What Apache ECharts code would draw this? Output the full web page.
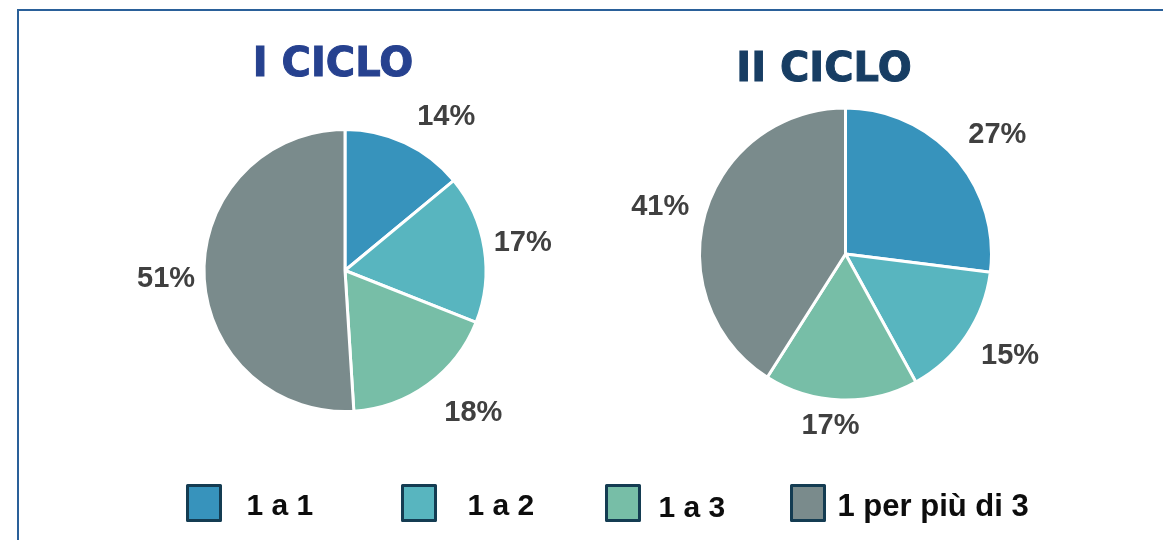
<!DOCTYPE html>
<html>
<head>
<meta charset="utf-8">
<script src="https://cdn.jsdelivr.net/npm/echarts@6/dist/echarts.min.js"></script>
<style>
  html, body { margin: 0; padding: 0; background: #fff; }
  #chart { width: 1163px; height: 540px; }
</style>
</head>
<body>
<div id="chart"></div>
<script>
// categorie e percentuali
const categories = ["1 a 1", "1 a 2", "1 a 3", "1 per più di 3"];
const primoCiclo = [14, 17, 18, 51];
const secondoCiclo = [27, 15, 17, 41];
const titoli = ["I CICLO", "II CICLO"];

const COLORS = ["#3793bc", "#58b5bf", "#77bea7", "#7a8b8c"];
const LABEL_COLOR = "#404040";

// piccoli spostamenti delle etichette (px) per avvicinarsi alla posizione di Excel
const nudgePrimo = [[22, 15], [-6, 2], [19, -8], [7, 3]];
const nudgeSecondo = [[7, 9], [5, -6], [-9, -21], [0, 7]];

const chart = echarts.init(document.getElementById("chart"));

function toData(values) {
  return values.map((v, i) => ({ name: categories[i], value: v }));
}

// torta vera
function pieSeries(values, center, r) {
  return {
    type: "pie",
    center: center,
    radius: r,
    startAngle: 90,
    clockwise: true,
    silent: true,
    label: { show: false },
    labelLine: { show: false },
    itemStyle: { borderColor: "#fff", borderWidth: 3 },
    data: toData(values),
  };
}

// anello trasparente usato solo per mettere le etichette fuori dalla torta
function labelRing(values, center, r, gap, nudge) {
  return {
    type: "pie",
    center: center,
    radius: [r, r + gap * 2],
    startAngle: 90,
    clockwise: true,
    silent: true,
    itemStyle: { color: "transparent" },
    label: {
      show: true,
      position: "inside",
      formatter: "{c}%",
      color: LABEL_COLOR,
      fontFamily: "Liberation Sans",
      fontWeight: "bold",
      fontSize: 29,
    },
    labelLine: { show: false },
    labelLayout: (p) => ({ dx: nudge[p.dataIndex][0], dy: nudge[p.dataIndex][1] }),
    data: toData(values),
  };
}

const legendLeft = [186, 401, 605, 790];
const legendPadLeft = [21, 27, 14, 8];
const legendPadTop = [8, 8, 12, 8];
const legendFont = [30, 30, 30, 31];

const titleStyle = (color) => ({
  fontFamily: "DejaVu Sans",
  fontWeight: "bold",
  fontSize: 40,
  color: color,
  textBorderColor: color,
  textBorderWidth: 1,
});

const option = {
  color: COLORS,
  animation: false,
  title: [
    { text: titoli[0], left: 333, top: 46, textAlign: "center", padding: 0, textStyle: titleStyle("#26418f") },
    { text: titoli[1], left: 824, top: 51, textAlign: "center", padding: 0, textStyle: titleStyle("#173d63") },
  ],
  legend: categories.map((name, i) => ({
    data: [name],
    left: legendLeft[i],
    top: 484,
    padding: 0,
    icon: "rect",
    itemWidth: 33,
    itemHeight: 35,
    selectedMode: false,
    itemStyle: { borderColor: "#143c52", borderWidth: 3 },
    formatter: "{t|{name}}",
    textStyle: {
      rich: {
        t: {
          fontFamily: "Liberation Sans",
          fontWeight: "bold",
          fontSize: legendFont[i],
          color: "#0d0d0d",
          padding: [legendPadTop[i], 0, 0, legendPadLeft[i]],
        },
      },
    },
  })),
  series: [
    pieSeries(primoCiclo, [345, 270.5], 141),
    pieSeries(secondoCiclo, [845.5, 254], 146),
    labelRing(primoCiclo, [345, 270.5], 141, 42, nudgePrimo),
    labelRing(secondoCiclo, [845.5, 254], 146, 44, nudgeSecondo),
  ],
  graphic: [
    { type: "line", shape: { x1: 17, y1: 10, x2: 1163, y2: 10 }, style: { stroke: "#2a6099", lineWidth: 2 } },
    { type: "line", shape: { x1: 18, y1: 9, x2: 18, y2: 540 }, style: { stroke: "#2a6099", lineWidth: 2 } },
  ],
};

chart.setOption(option);
</script>
</body>
</html>
